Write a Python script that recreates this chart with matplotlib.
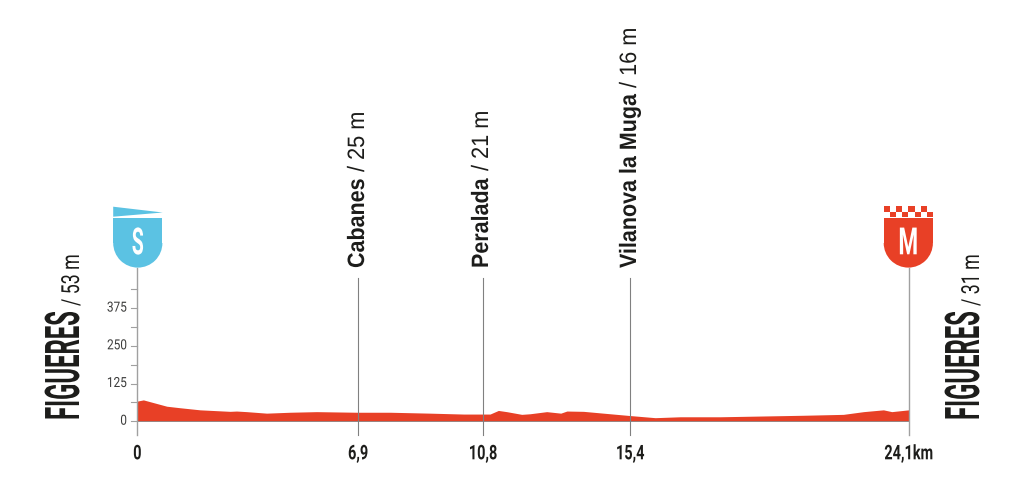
import matplotlib
matplotlib.use("Agg")
import matplotlib.pyplot as plt
from matplotlib.patches import Polygon, Rectangle, Wedge
from matplotlib.patheffects import AbstractPathEffect
from matplotlib.transforms import Affine2D

km = [0, 0.19, 0.92, 1.33, 1.96, 2.9, 3.1, 3.42, 4.04, 4.77, 5.6, 6.86, 7.9, 9.15, 10.2, 11.02,
      11.28, 11.54, 12.01, 12.27, 12.79, 13.23, 13.42, 13.94, 14.56, 15.4, 16.18, 16.96, 18.2,
      19.77, 20.81, 22.06, 22.69, 23.31, 23.57, 24.1]
elev = [67, 71, 50, 45, 38, 33, 34, 32, 27, 30, 32, 30, 30, 27, 24, 24,
        36, 32, 23, 25, 32, 27, 34, 33, 27, 19, 12, 15, 15,
        18, 20, 23, 32, 38, 32, 38]
way_km = [6.9, 10.8, 15.4]
way_names = ["Cabanes", "Peralada", "Vilanova la Muga"]
way_alts = ["/ 25 m", "/ 21 m", "/ 16 m"]
km_ticks = [0, 6.9, 10.8, 15.4, 24.1]
km_labels = ["0", "6,9", "10,8", "15,4", "24,1km"]
y_ticks = [0, 62.5, 125, 187.5, 250, 312.5, 375, 437.5]
y_labels = ["0", "", "125", "", "250", "", "375", ""]
start_name, start_alt = "FIGUERES", "/ 53 m"
end_name, end_alt = "FIGUERES", "/ 31 m"

W, H = 1024, 496
X0, PXKM = 137.3, 771.4 / 24.1
Y0, PXM = 421.3, 37.7 / 125
INK = "#1d1d1b"
GREY = "#a0a0a0"
RED = "#e84026"
BLUE = "#5bc2e3"
COND = ["Roboto", "DejaVu Sans"]
SANS = ["Liberation Sans", "DejaVu Sans"]


class Tall(AbstractPathEffect):
    """Stretch the glyphs of a real text away from its baseline (condensed look)."""

    def __init__(self, sy=1.0):
        super().__init__()
        self.sy = sy

    def draw_path(self, renderer, gc, tpath, affine, rgbFace=None):
        renderer.draw_path(gc, tpath, Affine2D().scale(1, self.sy) + affine, rgbFace)


fig = plt.figure(figsize=(W / 100, H / 100), dpi=100)
ax = fig.add_axes([0, 0, 1, 1])
ax.set_xlim(-X0 / PXKM, (W - X0) / PXKM)
ax.set_ylim(-(H - Y0) / PXM, Y0 / PXM)
ax.axis("off")

pix = fig.add_axes([0, 0, 1, 1], facecolor="none")
pix.set_xlim(0, W)
pix.set_ylim(H, 0)
pix.axis("off")

ax.fill_between(km, 0, elev, color=RED, lw=0, zorder=2)
ax.plot([0, 24.1], [0, 0], color="#8a8a8a", lw=0.6, zorder=3)

yb = -(435 - Y0) / PXM
ax.plot([0, 0], [yb, (Y0 - 268) / PXM], color=GREY, lw=1, zorder=3)
ax.plot([24.1, 24.1], [yb, (Y0 - 268) / PXM], color=GREY, lw=1, zorder=3)
for k in way_km:
    ax.plot([k, k], [yb, (Y0 - 278) / PXM], color="#808080", lw=0.8, zorder=3)

for v, lab in zip(y_ticks, y_labels):
    ax.plot([-6.5 / PXKM, 0], [v, v], color=GREY, lw=0.8, zorder=3)
    if lab:
        ax.text(-10.5 / PXKM, v - 3.4 / PXM, lab, ha="right", va="baseline", fontsize=8.5,
                family=COND, color="#3c3c3b", path_effects=[Tall(1.18)])

for k, lab in zip(km_ticks, km_labels):
    ax.text(k, -(459.3 - Y0) / PXM, lab, ha="center", va="baseline", fontsize=10.44,
            family=COND, weight="bold", color=INK, path_effects=[Tall(1.39)])


def upright(x, y, text, size, sy, weight, family):
    pix.text(x, y, text, rotation=90, rotation_mode="anchor", ha="left", va="baseline",
             fontsize=size, family=family, weight=weight, color=INK,
             path_effects=[Tall(sy)])


way_x = [364, 488, 636]
alt_y = [172, 171, 88]
for i in range(3):
    upright(way_x[i], 268, way_names[i], 15.47, 1.1, "bold", SANS)
    upright(way_x[i], alt_y[i], way_alts[i], 15.64, 1.09, "normal", SANS)

upright(79, 420, start_name, 17.2, 2.0, "bold", COND)
upright(79, 306, start_alt, 12.8, 1.4, "normal", COND)
upright(979, 420, end_name, 17.2, 2.0, "bold", COND)
upright(979, 306, end_alt, 12.8, 1.4, "normal", COND)


def shield(cx, color, letter, size, sy):
    r = 24.6
    pix.add_patch(Rectangle((cx - r, 218.3), 2 * r, 24.8, color=color, lw=0, zorder=4))
    pix.add_patch(Wedge((cx, 243), r, 0, 180, color=color, lw=0, zorder=4))
    pix.text(cx, 254.3, letter, ha="center", va="baseline", color="white", fontsize=size,
             family=COND, weight="bold", zorder=5, path_effects=[Tall(sy)])


shield(137.8, BLUE, "S", 14, 1.92)
pix.add_patch(Polygon([(113.2, 206.7), (162.7, 212.5), (113.2, 216.7)], color=BLUE, lw=0))

shield(908.3, RED, "M", 16.2, 1.67)
cell = 6.1
for col in range(8):
    for row in range(2):
        if (col + row) % 2 == 0:
            pix.add_patch(Rectangle((884 + col * cell, 206.3 + row * 5.5), cell, 5.5,
                                    color=RED, lw=0))

fig.savefig("out.png", dpi=100)
